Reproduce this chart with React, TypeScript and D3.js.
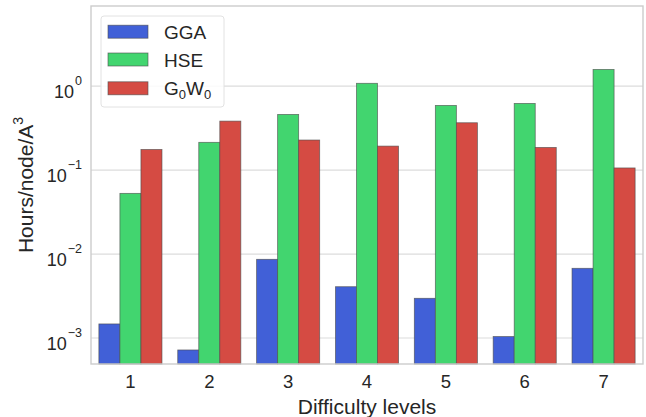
import React, { useEffect, useRef } from 'react';
import * as d3 from 'd3';

// difficulty levels on the x axis
const levels = ['1', '2', '3', '4', '5', '6', '7'];
const methods = ['GGA', 'HSE', 'G0W0'];

// hours per node per A^3
const gga = [0.00147, 0.00072, 0.00865, 0.00408, 0.00297, 0.00104, 0.00676];
const hse = [0.0528, 0.214, 0.46, 1.08, 0.589, 0.622, 1.58];
const g0w0 = [0.176, 0.383, 0.228, 0.193, 0.366, 0.186, 0.106];

const yTicks = [-3, -2, -1, 0];

const colors = ['#4160d7', '#42d56f', '#d54b43'];

const W = 646;
const H = 417;
const FONT = 'Liberation Sans, Arial, sans-serif';

export default function App() {
  const svgRef = useRef<SVGSVGElement>(null);

  useEffect(() => {
    const svg = d3.select(svgRef.current);
    svg.selectAll('*').remove();

    const m = { left: 91, right: 3, top: 6, bottom: 53 };
    const x0 = d3.scaleBand().domain(levels).range([m.left, W - m.right]).paddingInner(0).paddingOuter(0);
    const x1 = d3.scaleBand().domain(methods).range([0, x0.bandwidth() * 0.8]);
    const y = d3.scaleLog().domain([4.9e-4, 9.0]).range([H - m.bottom, m.top]);

    const series = [gga, hse, g0w0];

    // grid
    svg.append('g')
      .selectAll('line')
      .data(yTicks)
      .join('line')
      .attr('x1', m.left)
      .attr('x2', W - m.right)
      .attr('y1', d => y(Math.pow(10, d)))
      .attr('y2', d => y(Math.pow(10, d)))
      .attr('stroke', '#dcdcdc')
      .attr('stroke-width', 1.2);

    // bars
    const groups = svg.append('g')
      .selectAll('g')
      .data(levels)
      .join('g')
      .attr('transform', d => `translate(${x0(d)! + x0.bandwidth() * 0.1},0)`);

    groups.selectAll('rect')
      .data((d, i) => methods.map((k, j) => ({ k, j, v: series[j][i] })))
      .join('rect')
      .attr('x', d => x1(d.k)!)
      .attr('width', x1.bandwidth())
      .attr('y', d => y(d.v))
      .attr('height', d => H - m.bottom - y(d.v))
      .attr('fill', d => colors[d.j])
      .attr('stroke', '#4d4d4d')
      .attr('stroke-opacity', 0.75)
      .attr('stroke-width', 0.8);

    // frame
    svg.append('rect')
      .attr('x', m.left)
      .attr('y', m.top)
      .attr('width', W - m.right - m.left)
      .attr('height', H - m.bottom - m.top)
      .attr('fill', 'none')
      .attr('stroke', '#cccccc')
      .attr('stroke-width', 1.4);

    // y tick labels
    const yl = svg.append('g')
      .selectAll('text')
      .data(yTicks)
      .join('text')
      .attr('x', 82)
      .attr('y', d => y(Math.pow(10, d)) + 12)
      .attr('text-anchor', 'end')
      .attr('font-family', FONT)
      .attr('font-size', 18)
      .attr('fill', '#262626');
    yl.append('tspan').text('10');
    yl.append('tspan')
      .attr('dy', -13)
      .attr('dx', 1)
      .attr('font-size', 12.5)
      .text(d => (d < 0 ? '\u2212' + Math.abs(d) : String(d)));

    // x tick labels
    svg.append('g')
      .selectAll('text')
      .data(levels)
      .join('text')
      .attr('x', d => x0(d)! + x0.bandwidth() / 2)
      .attr('y', 388)
      .attr('text-anchor', 'middle')
      .attr('font-family', FONT)
      .attr('font-size', 18.5)
      .attr('fill', '#262626')
      .text(d => d);

    // axis labels
    svg.append('text')
      .attr('x', (m.left + W - m.right) / 2)
      .attr('y', 414)
      .attr('text-anchor', 'middle')
      .attr('font-family', FONT)
      .attr('font-size', 21)
      .attr('fill', '#262626')
      .text('Difficulty levels');

    const ylab = svg.append('text')
      .attr('transform', `translate(33,${(m.top + H - m.bottom) / 2}) rotate(-90)`)
      .attr('text-anchor', 'middle')
      .attr('font-family', FONT)
      .attr('font-size', 21)
      .attr('fill', '#262626');
    ylab.append('tspan').text('Hours/node/A');
    ylab.append('tspan').attr('dy', -10).attr('font-size', 14).text('3');

    // legend
    const lg = svg.append('g');
    lg.append('rect')
      .attr('x', 101)
      .attr('y', 16)
      .attr('width', 123)
      .attr('height', 91)
      .attr('rx', 3)
      .attr('fill', 'white')
      .attr('fill-opacity', 0.85)
      .attr('stroke', '#e2e2e2')
      .attr('stroke-width', 1);
    const rowY = [31.7, 59.5, 88.3];
    methods.forEach((k, j) => {
      lg.append('rect')
        .attr('x', 108)
        .attr('y', rowY[j] - 6.5)
        .attr('width', 40)
        .attr('height', 13)
        .attr('fill', colors[j])
        .attr('stroke', '#4d4d4d')
        .attr('stroke-opacity', 0.75)
        .attr('stroke-width', 0.8);
      const t = lg.append('text')
        .attr('x', 164)
        .attr('y', rowY[j] + 7)
        .attr('font-family', FONT)
        .attr('font-size', 19)
        .attr('fill', '#262626');
      if (k === 'G0W0') {
        t.append('tspan').text('G');
        t.append('tspan').attr('dy', 4).attr('font-size', 13).text('0');
        t.append('tspan').attr('dy', -4).text('W');
        t.append('tspan').attr('dy', 4).attr('font-size', 13).text('0');
      } else {
        t.text(k);
      }
    });
  }, []);

  return (
    <svg ref={svgRef} width={W} height={H} style={{ display: 'block', position: 'absolute', left: 0, top: 0, background: 'white' }} />
  );
}
